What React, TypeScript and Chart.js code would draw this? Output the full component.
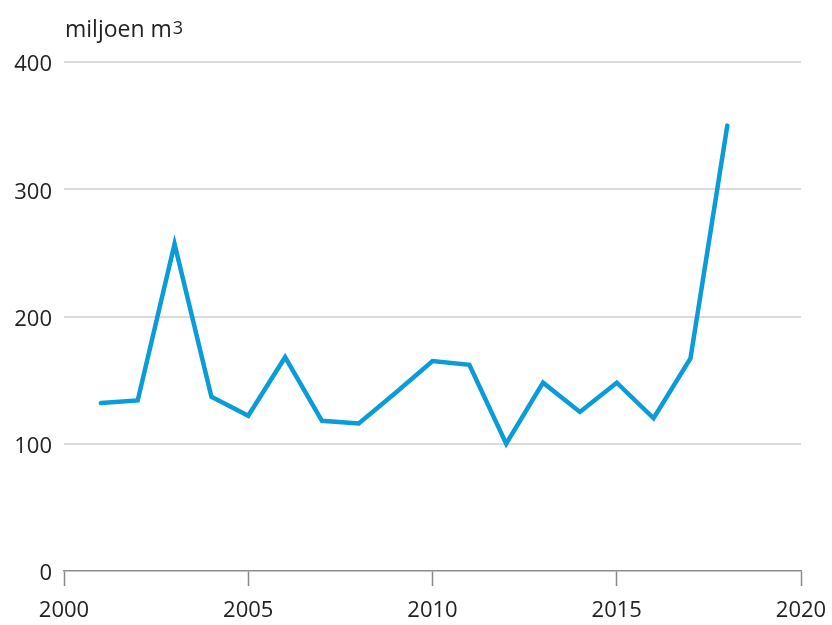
import React, { useEffect, useRef } from "react";
import { Chart, registerables } from "chart.js";

Chart.register(...registerables);

const years = [2001, 2002, 2003, 2004, 2005, 2006, 2007, 2008, 2009, 2010, 2011, 2012, 2013, 2014, 2015, 2016, 2017, 2018];
const values = [132, 134, 257, 137, 122, 168, 118, 116, 140, 165, 162, 100, 148, 125, 148, 120, 167, 350];
const xTickValues = [2000, 2005, 2010, 2015, 2020];
const yTickValues = [0, 100, 200, 300, 400];
const unitLabel = "miljoen m";
const unitSup = "3";

const FONT = "'Open Sans', 'DejaVu Sans', sans-serif";
const TEXT = "#222222";

const unitPlugin = {
  id: "unitLabel",
  afterDraw(chart: any) {
    const { ctx, chartArea } = chart;
    ctx.save();
    ctx.fillStyle = TEXT;
    ctx.textBaseline = "alphabetic";
    ctx.textAlign = "left";
    ctx.font = `23px ${FONT}`;
    const x = chartArea.left + 1;
    const y = 37;
    ctx.fillText(unitLabel, x, y);
    const w = ctx.measureText(unitLabel).width;
    ctx.font = `18px ${FONT}`;
    ctx.fillText(unitSup, x + w + 1, y - 3);
    ctx.restore();
  },
};

export default function App() {
  const ref = useRef<HTMLCanvasElement | null>(null);
  useEffect(() => {
    if (!ref.current) return;
    const chart = new Chart(ref.current, {
      type: "line",
      data: {
        datasets: [
          {
            data: years.map((yr, i) => ({ x: yr, y: values[i] })),
            borderColor: "#0a9bd9",
            borderWidth: 4.5,
            pointRadius: 0,
            tension: 0,
            borderJoinStyle: "miter",
            borderCapStyle: "round",
            fill: false,
          },
        ],
      },
      options: {
        animation: false,
        responsive: false,
        maintainAspectRatio: false,
        layout: { padding: { left: 0, right: 31, top: 62, bottom: 0 } },
        plugins: { legend: { display: false }, tooltip: { enabled: false } },
        scales: {
          x: {
            type: "linear",
            min: 2000,
            max: 2020,
            afterBuildTicks: (s: any) => {
              s.ticks = xTickValues.map((v) => ({ value: v }));
            },
            afterFit: (s: any) => {
              s.height = 54;
              s.paddingLeft = 0;
              s.paddingRight = 0;
            },
            border: { display: true, color: "#8a8a8a", width: 1.5 },
            grid: {
              display: true,
              drawOnChartArea: false,
              drawTicks: true,
              tickLength: 15,
              tickColor: "#8a8a8a",
              tickWidth: 1.5,
            },
            ticks: {
              color: TEXT,
              font: { family: FONT, size: 22 },
              padding: 12,
              maxRotation: 0,
              autoSkip: false,
              callback: (v: any) => String(v),
            },
          },
          y: {
            min: 0,
            max: 400,
            afterBuildTicks: (s: any) => {
              s.ticks = yTickValues.map((v) => ({ value: v }));
            },
            afterFit: (s: any) => {
              s.width = 64;
              s.paddingTop = 0;
              s.paddingBottom = 0;
            },
            border: { display: false },
            grid: {
              color: (c: any) => (c.tick && c.tick.value === 0 ? "rgba(0,0,0,0)" : "#dadada"),
              lineWidth: 2,
              drawTicks: false,
            },
            ticks: {
              color: TEXT,
              font: { family: FONT, size: 22 },
              padding: 12,
              labelOffset: 3,
              callback: (v: any) => String(v),
            },
          },
        },
      },
      plugins: [unitPlugin],
    });
    return () => chart.destroy();
  }, []);
  return (
    <div style={{ position: "absolute", left: 0, top: 0, width: 832, height: 625, background: "#fff" }}>
      <canvas ref={ref} width={832} height={625} style={{ width: 832, height: 625, display: "block" }} />
    </div>
  );
}
